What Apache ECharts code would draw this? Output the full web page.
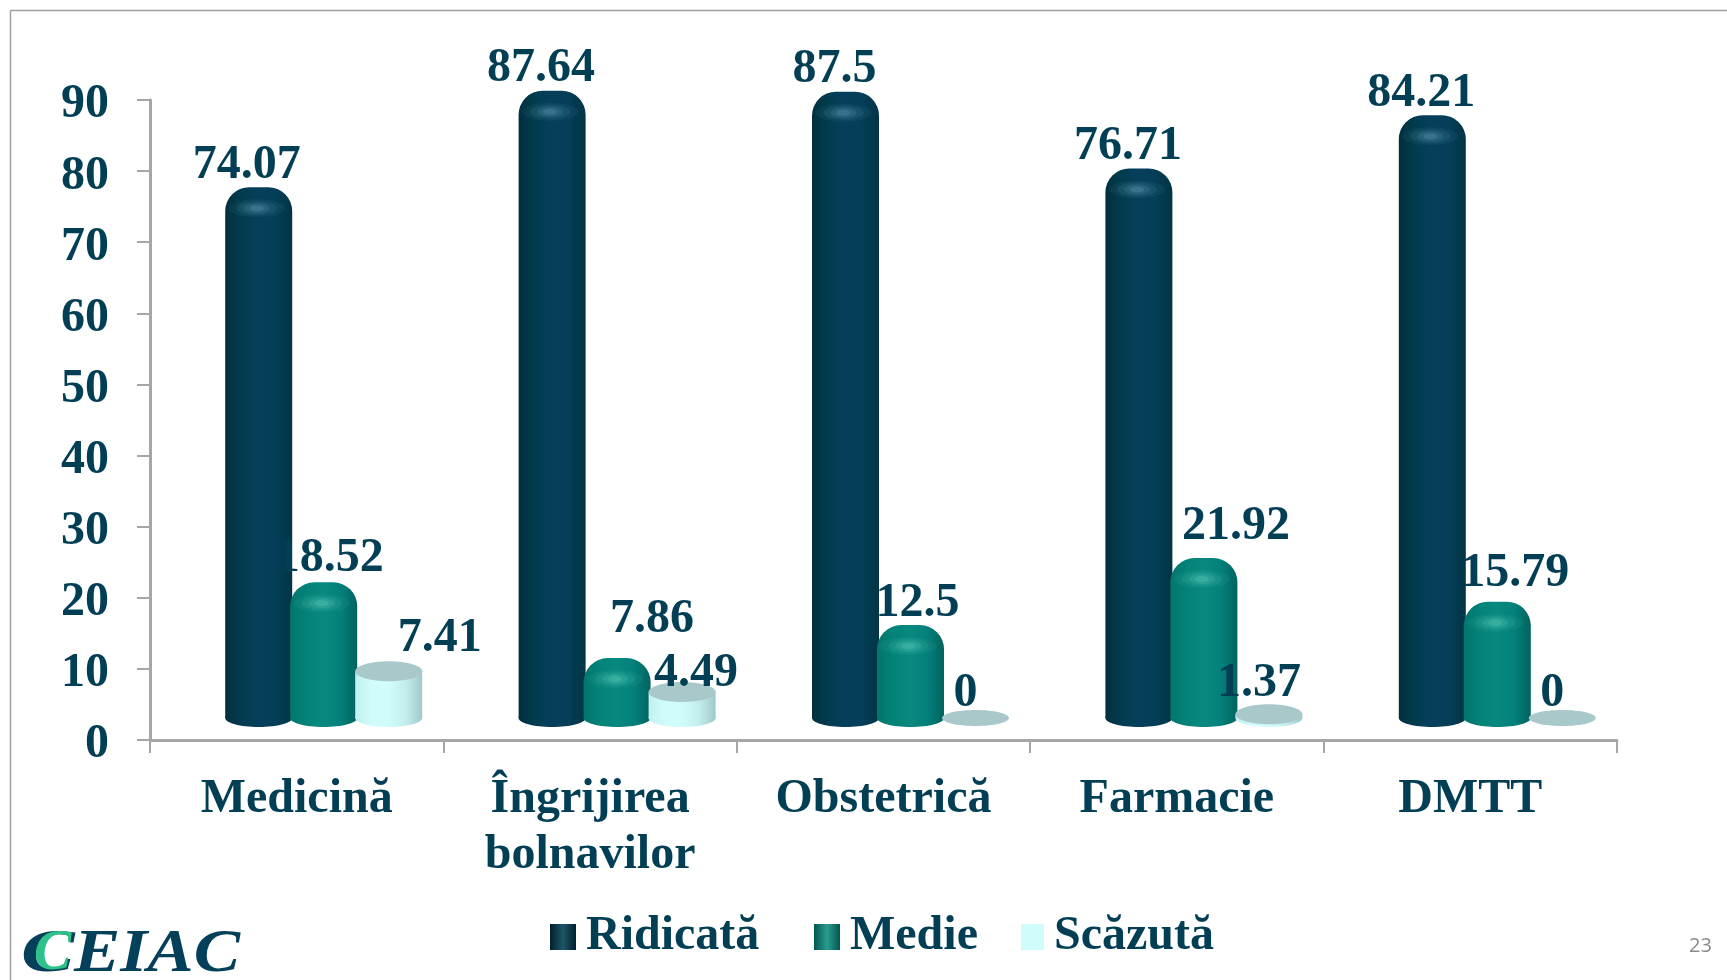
<!DOCTYPE html>
<html><head><meta charset="utf-8">
<style>html,body{margin:0;padding:0;background:#fff}#c{width:1727px;height:980px}</style>
<script src="https://cdn.jsdelivr.net/npm/echarts@6/dist/echarts.min.js"></script>
</head><body><div id="c"></div>
<script>
const categories = ['Medicină', 'Îngrijirea\nbolnavilor', 'Obstetrică', 'Farmacie', 'DMTT'];
const yTicks = { min: 0, max: 90, interval: 10 };
const ridicata = [74.07, 87.64, 87.5, 76.71, 84.21];
const medie = [18.52, 7.86, 12.5, 21.92, 15.79];
const scazuta = [7.41, 4.49, 0, 1.37, 0];
const seriesNames = ['Ridicată', 'Medie', 'Scăzută'];
// hand-placed label nudges from the reference [dx, dy] relative to cylinder top centre
const labelNudgeRidicata = [[-12,-32],[-11,-32],[-11,-32],[-11,-32],[-11,-32]];
const labelNudgeMedie = [[6,-34],[35,-49],[7,-32],[32,-42],[18,-38]];
const labelNudgeScazuta = [[51,-33],[14,-18],[-10,-24],[-10,-31],[-10,-24]];

const ink = '#023f55', axisGrey = '#a6a6a6', serif = '"Liberation Serif","Times New Roman",serif';
const hGrad = (a) => ({ type:'linear', x:0, y:0, x2:1, y2:0,
  colorStops:a.map((c,i)=>({offset:i/(a.length-1),color:c})) });
const styles = [
  { body:hGrad(['#01303f','#023c50','#063f5c','#053e58','#023445']), cap:'#a9c8ca', hi:'#8fd0e0', round:true, slot:-38 },
  { body:hGrad(['#02766d','#048378','#08897f','#04807a','#02635f']), cap:'#a9c8ca', hi:'#8ff0dc', round:true, slot:27 },
  { body:hGrad(['#c2f0ef','#d0fcfc','#d0fcfc','#c4eeee','#9fc8ca']), cap:'#a9c8ca', hi:'#a9c8ca', round:false, slot:92 }
];
const nudges = [labelNudgeRidicata, labelNudgeMedie, labelNudgeScazuta];
const halfW = 33.5, ry = 9, floorLift = 22, topLift = 16;

function cylinder(si) {
  return function (params, api) {
    const i = api.value(0), v = api.value(1);
    const p = api.coord([i, v]), p0 = api.coord([i, 0]);
    const st = styles[si], cx = p[0] + st.slot;
    const base = p0[1] - floorLift;
    const top = Math.min(p[1] - topLift, base);
    const kids = [];
    if (v > 0) {
      kids.push({ type:'ellipse', shape:{cx, cy:base, rx:halfW, ry}, style:{fill:st.body} });
      if (st.round) {
        kids.push({ type:'rect', shape:{x:cx-halfW, y:top-10, width:halfW*2, height:base-top+10, r:[24,24,0,0]}, style:{fill:st.body} });
        [[28,9,.06],[20,7,.09],[13,5,.12],[7,3,.16]].forEach(h => {
          kids.push({ type:'ellipse', shape:{cx:cx-2, cy:top+11, rx:h[0], ry:h[1]}, style:{fill:st.hi, opacity:h[2]} });
        });
      } else {
        kids.push({ type:'rect', shape:{x:cx-halfW, y:top, width:halfW*2, height:base-top}, style:{fill:st.body} });
        kids.push({ type:'ellipse', shape:{cx, cy:top, rx:halfW, ry:10}, style:{fill:st.cap} });
      }
    } else {
      kids.push({ type:'ellipse', shape:{cx, cy:base, rx:halfW, ry:8}, style:{fill:st.cap} });
    }
    const n = nudges[si][i];
    kids.push({ type:'text', style:{ text:String(v), x:cx+n[0], y:top+n[1], align:'center', verticalAlign:'middle',
      font:'bold 48px '+serif, fill:ink } });
    return { type:'group', children:kids };
  };
}
const mk = (name, vals, si, legendColor) => ({
  type:'custom', name, renderItem:cylinder(si), coordinateSystem:'cartesian2d',
  encode:{x:0,y:1}, itemStyle:{color:legendColor}, clip:false,
  data:vals.map((v,i)=>[i,v])
});
const legendItem = (name, left, w) => ({ left, top:908, itemWidth:w, itemHeight:26, icon:'rect', data:[name],
  textStyle:{color:ink, fontFamily:serif, fontWeight:'bold', fontSize:48, padding:[0,0,0,5]} });
const chart = echarts.init(document.getElementById('c'), null, {renderer:'canvas'});
chart.setOption({
  animation:false, backgroundColor:'#fff',
  grid:{left:150, right:110, top:100, bottom:240},
  legend:[ legendItem(seriesNames[0],545,26), legendItem(seriesNames[1],809,26), legendItem(seriesNames[2],1016,23) ],
  xAxis:{ type:'category', data:categories, boundaryGap:true,
    axisLine:{lineStyle:{color:axisGrey,width:3}}, axisTick:{show:true, alignWithLabel:false, length:13, lineStyle:{color:axisGrey,width:2}},
    axisLabel:{color:ink, fontFamily:serif, fontWeight:'bold', fontSize:48, lineHeight:56, margin:32, interval:0} },
  yAxis:{ type:'value', min:yTicks.min, max:yTicks.max, interval:yTicks.interval,
    splitLine:{show:false},
    axisLine:{show:true, lineStyle:{color:axisGrey,width:3}}, axisTick:{show:true, length:13, lineStyle:{color:axisGrey,width:2}},
    axisLabel:{margin:41, formatter:'{t|{value}}',
      rich:{t:{color:ink, fontFamily:serif, fontWeight:'bold', fontSize:48, lineHeight:48, padding:[10,0,0,0]}}} },
  series:[ mk(seriesNames[0], ridicata, 0, {type:'linear',x:0,y:0,x2:1,y2:0,colorStops:[{offset:0,color:'#011f2b'},{offset:.5,color:'#1d5568'},{offset:1,color:'#011f2b'}]}),
           mk(seriesNames[1], medie, 1, {type:'linear',x:0,y:0,x2:1,y2:0,colorStops:[{offset:0,color:'#03564f'},{offset:.5,color:'#2a9c90'},{offset:1,color:'#03564f'}]}),
           mk(seriesNames[2], scazuta, 2, '#d0fcfc') ],
  graphic:[
    { type:'line', silent:true, shape:{x1:10.5,y1:10.5,x2:1727,y2:10.5}, style:{stroke:'#a0a0a0',lineWidth:1.5} },
    { type:'line', silent:true, shape:{x1:10.5,y1:10.5,x2:10.5,y2:980}, style:{stroke:'#a0a0a0',lineWidth:1.5} },
    { type:'text', left:1689, top:936, style:{text:'23', font:'20px "Open Sans",sans-serif', fill:'#8a8a8a'} },
    { type:'text', x:21, y:924, scaleX:1.3, style:{text:'C', font:'italic bold 62px '+serif, fill:'#05405a'} },
    { type:'text', x:34, y:927, scaleX:1.0, style:{text:'C', font:'italic bold 56px '+serif, fill:'#2cc28a'} },
    { type:'text', x:74, y:924, scaleX:1.12, style:{text:'EIAC', font:'italic bold 62px '+serif, fill:'#05405a'} }
  ]
});
</script></body></html>
